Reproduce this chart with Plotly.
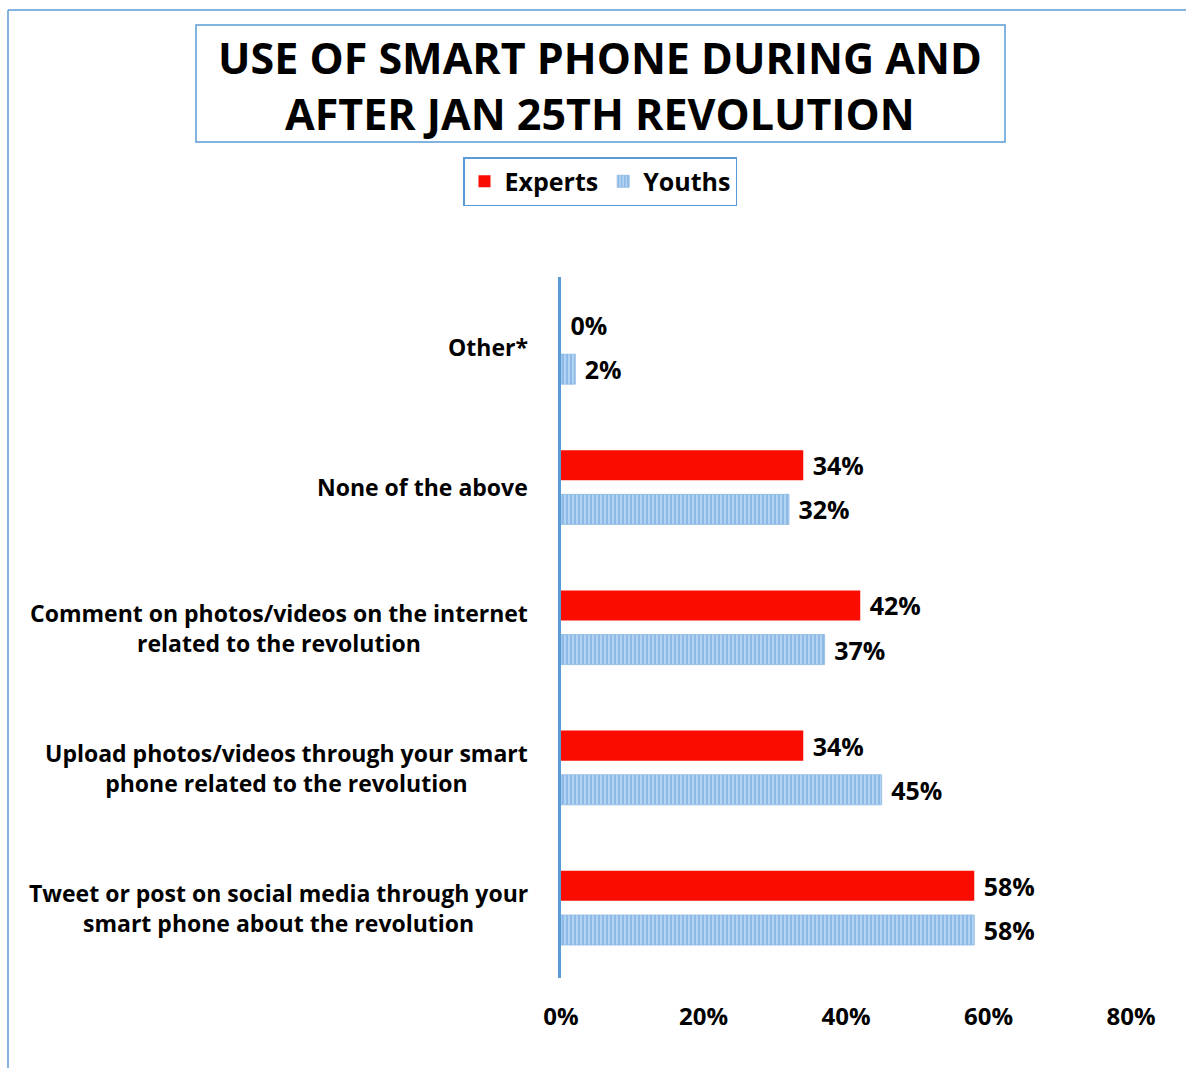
import plotly.graph_objects as go

# Response categories, listed top to bottom
categories = [
    "Other*",
    "None of the above",
    "Comment on photos/videos on the internet<br>related to the revolution",
    "Upload photos/videos through your smart<br>phone related to the revolution",
    "Tweet or post on social media through your<br>smart phone about the revolution",
]
experts = [0.00, 0.34, 0.42, 0.34, 0.58]
youths = [0.02, 0.32, 0.37, 0.45, 0.58]
x_ticks = [0, 0.2, 0.4, 0.6, 0.8]
x_tick_labels = ["0%", "20%", "40%", "60%", "80%"]

W, H = 1186, 1068
M_L, M_R, M_T, M_B = 561, 55, 277, 90
PW, PH = W - M_L - M_R, H - M_T - M_B


def px(x):
    return (x - M_L) / PW


def py(y):
    return (H - M_B - y) / PH


FONT = "Open Sans"
BLUE_EDGE = "#5B9BD5"
LABEL_FONT = dict(family=FONT, size=25, color="black", weight="bold")

fig = go.Figure()
fig.add_trace(go.Bar(
    name="Experts", y=categories, x=experts, orientation="h",
    marker=dict(color="#FA0D00", line=dict(width=0)),
    texttemplate="\u00a0%{x:.0%}", textposition="outside", constraintext="none",
    textfont=LABEL_FONT,
    cliponaxis=False,
))
fig.add_trace(go.Bar(
    name="Youths", y=categories, x=youths, orientation="h",
    marker=dict(
        color="#9DC3E6",
        line=dict(width=0.8, color="#8DB7E2"),
        pattern=dict(shape="|", fgcolor="#5E9ADA", bgcolor="#B3D3F2", size=4, solidity=0.45),
    ),
    texttemplate="\u00a0%{x:.0%}", textposition="outside", constraintext="none",
    textfont=LABEL_FONT,
    cliponaxis=False,
))

# Category labels: right-aligned block, each line centred
annotations = [
    dict(text=c, x=0, xref="paper", y=c, yref="y", xanchor="right", yanchor="middle",
         xshift=-31, align="center", showarrow=False,
         font=dict(family=FONT, size=23, color="black", weight="bold"))
    for c in categories
]
annotations.append(dict(
    text="USE OF SMART PHONE DURING AND<br>AFTER JAN 25TH REVOLUTION",
    x=px(600), y=py(85), xref="paper", yref="paper", xanchor="center", yanchor="middle",
    align="center", showarrow=False,
    font=dict(family=FONT, size=43, color="black", weight="bold"),
))

shapes = [
    # title frame
    dict(type="rect", xref="paper", yref="paper", x0=px(196), x1=px(1005), y0=py(142), y1=py(25),
         line=dict(color=BLUE_EDGE, width=1.5), fillcolor="rgba(0,0,0,0)"),
    # outer chart frame
    dict(type="line", xref="paper", yref="paper", x0=px(8), x1=px(8), y0=py(10), y1=py(H),
         line=dict(color=BLUE_EDGE, width=1.5)),
    dict(type="line", xref="paper", yref="paper", x0=px(8), x1=px(W), y0=py(10), y1=py(10),
         line=dict(color=BLUE_EDGE, width=1.5)),
]

fig.update_layout(
    width=W, height=H,
    margin=dict(l=M_L, r=M_R, t=M_T, b=M_B),
    paper_bgcolor="white", plot_bgcolor="white",
    barmode="group", bargap=0.37, bargroupgap=0.32,
    font=dict(family=FONT, color="black"),
    showlegend=True,
    legend=dict(
        orientation="h", x=px(600), y=py(157), xanchor="center", yanchor="top",
        bordercolor=BLUE_EDGE, borderwidth=1.5, bgcolor="white",
        font=dict(family=FONT, size=25, color="black", weight="bold"),
        itemwidth=30,
    ),
    xaxis=dict(
        range=[0, 0.8], tickvals=x_ticks, ticktext=x_tick_labels,
        showgrid=False, zeroline=False, showline=False,
        tickfont=dict(family=FONT, size=24, color="black", weight="bold"),
        ticklabelstandoff=22,
    ),
    yaxis=dict(
        categoryorder="array", categoryarray=categories, range=[4.5, -0.5],
        showticklabels=False, showgrid=False, zeroline=False,
        showline=True, linecolor=BLUE_EDGE, linewidth=3,
    ),
    annotations=annotations,
    shapes=shapes,
)

fig.write_html("out.html")
